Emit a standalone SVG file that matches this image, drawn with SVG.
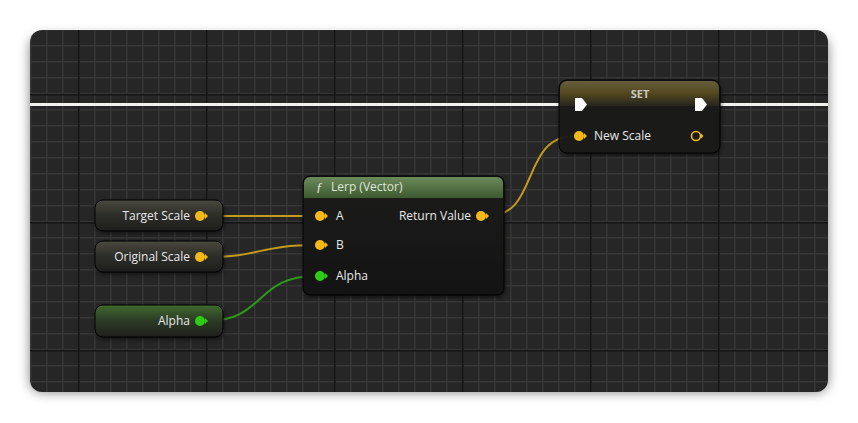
<svg xmlns="http://www.w3.org/2000/svg" width="858" height="423" viewBox="0 0 858 423">
<defs>
<pattern id="minor" width="16" height="16" patternUnits="userSpaceOnUse" x="14" y="13">
<rect width="16" height="16" fill="#262626"/>
<path d="M0 0.5H16M0.5 0V16" stroke="#353535" stroke-width="2"/>
</pattern>
<pattern id="major" width="128" height="128" patternUnits="userSpaceOnUse" x="78" y="94">
<path d="M0 0.5H128M0.5 0V128" stroke="#141414" stroke-width="2"/>
</pattern>
<filter id="sh" x="-10%" y="-10%" width="120%" height="130%"><feGaussianBlur stdDeviation="6"/></filter>
<filter id="nsh" x="-10%" y="-10%" width="120%" height="140%"><feGaussianBlur stdDeviation="2"/></filter>
<linearGradient id="body" x1="0" y1="0" x2="0" y2="1"><stop offset="0" stop-color="#1c1d1b"/><stop offset="1" stop-color="#121312"/></linearGradient>
<linearGradient id="var" x1="0" y1="0" x2="0" y2="1"><stop offset="0" stop-color="#4a4a40"/><stop offset="0.5" stop-color="#2c2c28"/><stop offset="1" stop-color="#1e1e1c"/></linearGradient>
<linearGradient id="varg" x1="0" y1="0" x2="0" y2="1"><stop offset="0" stop-color="#3f6a2c"/><stop offset="0.5" stop-color="#2c3a26"/><stop offset="1" stop-color="#1e1e1c"/></linearGradient>
<linearGradient id="lh" x1="0" y1="0" x2="0" y2="1"><stop offset="0" stop-color="#6c8a5a"/><stop offset="1" stop-color="#3d5a30"/></linearGradient>
<linearGradient id="sh2" x1="0" y1="0" x2="0" y2="1"><stop offset="0" stop-color="#6e6540"/><stop offset="0.5" stop-color="#5a4c1e"/><stop offset="1" stop-color="#252520"/></linearGradient>
</defs>
<style>
text{font-family:"Open Sans","DejaVu Sans",sans-serif;font-size:12px;fill:#e8e8e8}
.node{stroke:#000;stroke-width:1}
.y{fill:#f4b918}
.g{fill:#2fcc16}
.wy{fill:none;stroke:#c49a1c;stroke-width:2}
.wg{fill:none;stroke:#2d9a18;stroke-width:2}
</style>
<rect x="30" y="36" width="798" height="356" rx="12" fill="#000" opacity="0.5" filter="url(#sh)"/>
<clipPath id="pc"><rect x="30" y="30" width="798" height="362" rx="12"/></clipPath>
<g clip-path="url(#pc)">
<rect x="30" y="30" width="798" height="362" fill="url(#minor)"/>
<rect x="30" y="30" width="798" height="362" fill="url(#major)"/>
</g>
<g id="connectors">
<path d="M30 104.5H575M708 104.5H828" stroke="#f2f2ee" stroke-width="3"/>
<path class="wy" d="M207 216H316"/>
<path class="wy" d="M207 257C260 257 260 245 316 245"/>
<path class="wg" d="M207 321C265 321 255 276 316 276"/>
<path class="wy" d="M488 216C540 216 520 136 575 136"/>
</g>
<g id="target-scale">
<rect x="96" y="202" width="128" height="31" rx="8" fill="#000" opacity="0.6" filter="url(#nsh)"/>
<rect class="node" x="95" y="200" width="128" height="31" rx="8" fill="url(#var)"/>
<text x="190" y="220" text-anchor="end">Target Scale</text>
<circle class="y" cx="200" cy="216" r="5"/><path class="y" d="M205 213l3 3-3 3z"/>
</g>
<g id="original-scale">
<rect x="96" y="243" width="128" height="31" rx="8" fill="#000" opacity="0.6" filter="url(#nsh)"/>
<rect class="node" x="95" y="241" width="128" height="31" rx="8" fill="url(#var)"/>
<text x="190" y="261" text-anchor="end">Original Scale</text>
<circle class="y" cx="200" cy="257" r="5"/><path class="y" d="M205 254l3 3-3 3z"/>
</g>
<g id="alpha">
<rect x="96" y="307" width="128" height="32" rx="8" fill="#000" opacity="0.6" filter="url(#nsh)"/>
<rect class="node" x="95" y="305" width="128" height="32" rx="8" fill="url(#varg)"/>
<text x="190" y="325" text-anchor="end">Alpha</text>
<circle class="g" cx="200" cy="321" r="5"/><path class="g" d="M205 318l3 3-3 3z"/>
</g>
<g id="lerp">
<rect x="304" y="179" width="201" height="118" rx="7" fill="#000" opacity="0.6" filter="url(#nsh)"/>
<rect class="node" x="303" y="176" width="201" height="119" rx="7" fill="url(#body)"/>
<path d="M310 177H497a6 6 0 0 1 6 6V198H304V183a6 6 0 0 1 6-6z" fill="url(#lh)"/>
<text x="316" y="191" style="font-style:italic;font-family:'Liberation Serif',serif;font-size:13px">ƒ</text>
<text x="331" y="191" style="fill:#dfe6da">Lerp (Vector)</text>
<circle class="y" cx="320" cy="216" r="5"/><path class="y" d="M325 213l3 3-3 3z"/>
<text x="336" y="220">A</text>
<circle class="y" cx="320" cy="245" r="5"/><path class="y" d="M325 242l3 3-3 3z"/>
<text x="336" y="249">B</text>
<circle class="g" cx="320" cy="276" r="5"/><path class="g" d="M325 273l3 3-3 3z"/>
<text x="336" y="280">Alpha</text>
<text x="471" y="220" text-anchor="end">Return Value</text>
<circle class="y" cx="481" cy="216" r="5"/><path class="y" d="M486 213l3 3-3 3z"/>
</g>
<g id="set">
<rect x="560" y="83" width="161" height="72" rx="8" fill="#000" opacity="0.6" filter="url(#nsh)"/>
<rect class="node" x="559" y="80" width="161" height="73" rx="8" fill="#1b1c1a" fill-opacity="0.92"/>
<path d="M567 81H712a7 7 0 0 1 7 7V106H560V88a7 7 0 0 1 7-7z" fill="url(#sh2)" opacity="0.9"/>
<text x="640" y="98" text-anchor="middle" style="font-size:11px;font-weight:bold;fill:#c8c8c0">SET</text>
<path d="M575 98H582L587 104.5L582 111H575Z" fill="#fff"/>
<path d="M695 98H702L707 104.5L702 111H695Z" fill="#fff"/>
<circle class="y" cx="579" cy="136" r="5"/><path class="y" d="M584 133l3 3-3 3z"/>
<text x="594" y="140">New Scale</text>
<circle cx="696" cy="136" r="4.5" fill="none" stroke="#f4b918" stroke-width="1.6"/><path class="y" d="M701 133.5l2.5 2.5-2.5 2.5z"/>
</g>
</svg>
